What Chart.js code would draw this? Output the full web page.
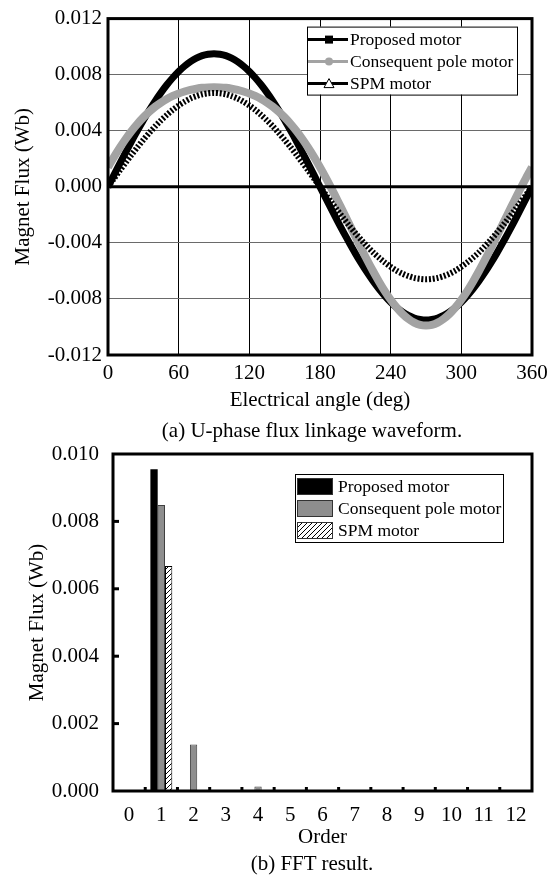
<!DOCTYPE html>
<html>
<head>
<meta charset="utf-8">
<script src="https://cdn.jsdelivr.net/npm/chart.js@4.4.1/dist/chart.umd.min.js"></script>
<style>
  body { margin: 0; background: #fff; width: 558px; height: 875px; position: relative; overflow: hidden; font-family: "Liberation Serif", "Times New Roman", serif; }
  .wrap { position: absolute; left: 0; width: 558px; }
  #wrap1 { top: 0; height: 430px; }
  #wrap2 { top: 430px; height: 445px; }
  .caption { position: absolute; left: 0; width: 624px; text-align: center; font-size: 21px; line-height: 24px; color: #000; z-index: 2; }
</style>
</head>
<body>
<div class="wrap" id="wrap1"><canvas id="waveChart" width="558" height="430"></canvas></div>
<div class="wrap" id="wrap2"><canvas id="fftChart" width="558" height="445"></canvas></div>
<div class="caption" style="top:418px">(a) U-phase flux linkage waveform.</div>
<div class="caption" style="top:851px">(b) FFT result.</div>

<script>
// ---------------- DATA ----------------
const angles = [0, 5, 10, 15, 20, 25, 30, 35, 40, 45, 50, 55, 60, 65, 70, 75, 80, 85, 90,
  95, 100, 105, 110, 115, 120, 125, 130, 135, 140, 145, 150, 155, 160, 165, 170, 175, 180,
  185, 190, 195, 200, 205, 210, 215, 220, 225, 230, 235, 240, 245, 250, 255, 260, 265, 270,
  275, 280, 285, 290, 295, 300, 305, 310, 315, 320, 325, 330, 335, 340, 345, 350, 355, 360];

const proposedFlux = [0, 0.00083, 0.00165, 0.00246, 0.00325, 0.00401, 0.00475, 0.00545, 0.00611, 0.00672, 0.00728, 0.00778, 0.00823, 0.00861, 0.00893, 0.00918, 0.00936, 0.00946, 0.0095,
  0.00946, 0.00936, 0.00918, 0.00893, 0.00861, 0.00823, 0.00778, 0.00728, 0.00672, 0.00611, 0.00545, 0.00475, 0.00401, 0.00325, 0.00246, 0.00165, 0.00083, 0,
  -0.00083, -0.00165, -0.00246, -0.00325, -0.00401, -0.00475, -0.00545, -0.00611, -0.00672, -0.00728, -0.00778, -0.00823, -0.00861, -0.00893, -0.00918, -0.00936, -0.00946, -0.0095,
  -0.00946, -0.00936, -0.00918, -0.00893, -0.00861, -0.00823, -0.00778, -0.00728, -0.00672, -0.00611, -0.00545, -0.00475, -0.00401, -0.00325, -0.00246, -0.00165, -0.00083, 0];

const consequentFlux = [0.0014, 0.00212, 0.00279, 0.00341, 0.00398, 0.00449, 0.00495, 0.00535, 0.00571, 0.00601, 0.00627, 0.00648, 0.00666, 0.0068, 0.00692, 0.007, 0.00706, 0.00709, 0.0071,
  0.00709, 0.00706, 0.007, 0.00692, 0.0068, 0.00666, 0.00648, 0.00627, 0.00601, 0.00571, 0.00535, 0.00495, 0.00449, 0.00398, 0.00341, 0.00279, 0.00212, 0.0014,
  0.00064, -0.00016, -0.00099, -0.00184, -0.00269, -0.00355, -0.0044, -0.00522, -0.00601, -0.00675, -0.00744, -0.00806, -0.0086, -0.00906, -0.00942, -0.00969, -0.00985, -0.0099,
  -0.00985, -0.00969, -0.00942, -0.00906, -0.0086, -0.00806, -0.00744, -0.00675, -0.00601, -0.00522, -0.0044, -0.00355, -0.00269, -0.00184, -0.00099, -0.00016, 0.00064, 0.0014];

const spmFlux = [0, 0.00058, 0.00116, 0.00173, 0.00229, 0.00283, 0.00335, 0.00384, 0.00431, 0.00474, 0.00513, 0.00549, 0.0058, 0.00607, 0.0063, 0.00647, 0.0066, 0.00667, 0.0067,
  0.00667, 0.0066, 0.00647, 0.0063, 0.00607, 0.0058, 0.00549, 0.00513, 0.00474, 0.00431, 0.00384, 0.00335, 0.00283, 0.00229, 0.00173, 0.00116, 0.00058, 0,
  -0.00057, -0.00114, -0.0017, -0.00225, -0.00279, -0.0033, -0.00378, -0.00424, -0.00467, -0.00505, -0.0054, -0.00571, -0.00598, -0.0062, -0.00637, -0.0065, -0.00657, -0.0066,
  -0.00657, -0.0065, -0.00637, -0.0062, -0.00598, -0.00571, -0.0054, -0.00505, -0.00467, -0.00424, -0.00378, -0.0033, -0.00279, -0.00225, -0.0017, -0.00114, -0.00057, 0];

const angleTicks = [0, 60, 120, 180, 240, 300, 360];
const waveFluxTicks = [-0.012, -0.008, -0.004, 0, 0.004, 0.008, 0.012];

const orders = ["0", "1", "2", "3", "4", "5", "6", "7", "8", "9", "10", "11", "12"];
const fftProposed = [0, 0.00955, 0.00002, 0, 0.00001, 0.00002, 0, 0, 0, 0, 0, 0, 0];
const fftConsequent = [0, 0.00849, 0.00138, 0, 0.00013, 0.00003, 0, 0, 0, 0, 0, 0, 0];
const fftSpm = [0, 0.00668, 0.00002, 0, 0.00001, 0, 0, 0, 0, 0, 0, 0, 0];
const fftFluxTicks = [0, 0.002, 0.004, 0.006, 0.008, 0.010];

const seriesNames = ["Proposed motor", "Consequent pole motor", "SPM motor"];

// ---------------- COMMON ----------------
Chart.defaults.font.family = '"Liberation Serif", "Times New Roman", serif';
Chart.defaults.color = "#000";
const tickFont = { size: 21 };
const titleFont = { size: 21 };
const legendFont = '17.5px "Liberation Serif", "Times New Roman", serif';
const GRAY_LINE = "#a3a3a3";
const GRAY_BAR = "#8e8e8e";

function fixedTicks(values) {
  return scale => { scale.ticks = values.map(v => ({ value: v })); };
}

function hatchPattern(ctx) {
  const p = document.createElement("canvas");
  p.width = 5; p.height = 5;
  const g = p.getContext("2d");
  g.fillStyle = "#fff";
  g.fillRect(0, 0, 5, 5);
  g.strokeStyle = "#000";
  g.lineWidth = 1;
  g.beginPath();
  g.moveTo(0, 5); g.lineTo(5, 0);
  g.moveTo(-1, 1); g.lineTo(1, -1);
  g.moveTo(4, 6); g.lineTo(6, 4);
  g.stroke();
  return ctx.createPattern(p, "repeat");
}

// ---------------- WAVEFORM CHART ----------------
const waveFrame = {
  id: "waveFrame",
  afterDatasetsDraw(chart) {
    const { ctx, chartArea: a, scales } = chart;
    const y0 = scales.y.getPixelForValue(0);
    ctx.save();
    ctx.strokeStyle = "#000";
    ctx.lineWidth = 3;
    ctx.beginPath();
    ctx.moveTo(a.left, y0);
    ctx.lineTo(a.right, y0);
    ctx.stroke();
    ctx.strokeRect(a.left, a.top, a.right - a.left, a.bottom - a.top);
    ctx.restore();
  },
  afterDraw(chart) {
    const { ctx, chartArea: a } = chart;
    const bx = a.right - 225, by = a.top + 8, bw = 210, bh = 68;
    ctx.save();
    ctx.fillStyle = "#fff";
    ctx.fillRect(bx, by, bw, bh);
    ctx.strokeStyle = "#000";
    ctx.lineWidth = 1;
    ctx.strokeRect(bx + 0.5, by + 0.5, bw, bh);
    const rows = [by + 13, by + 35, by + 57];
    const colors = ["#000", GRAY_LINE, "#000"];
    rows.forEach((ry, i) => {
      ctx.strokeStyle = colors[i];
      ctx.lineWidth = 3;
      ctx.beginPath();
      ctx.moveTo(bx + 1, ry);
      ctx.lineTo(bx + 41, ry);
      ctx.stroke();
      const mx = bx + 22;
      if (i === 0) {
        ctx.fillStyle = "#000";
        ctx.fillRect(mx - 4, ry - 4, 8, 8);
      } else if (i === 1) {
        ctx.fillStyle = GRAY_LINE;
        ctx.beginPath();
        ctx.arc(mx, ry, 4, 0, Math.PI * 2);
        ctx.fill();
      } else {
        ctx.fillStyle = "#fff";
        ctx.strokeStyle = "#000";
        ctx.lineWidth = 1;
        ctx.beginPath();
        ctx.moveTo(mx, ry - 5);
        ctx.lineTo(mx + 5, ry + 4);
        ctx.lineTo(mx - 5, ry + 4);
        ctx.closePath();
        ctx.fill();
        ctx.stroke();
      }
      ctx.fillStyle = "#000";
      ctx.font = legendFont;
      ctx.textBaseline = "middle";
      ctx.fillText(seriesNames[i], bx + 43, ry + 1);
    });
    ctx.restore();
  }
};

const toPoints = values => angles.map((a, i) => ({ x: a, y: values[i] }));

new Chart(document.getElementById("waveChart"), {
  type: "line",
  data: {
    datasets: [
      { label: seriesNames[2], data: toPoints(spmFlux), borderColor: "#000", borderWidth: 6,
        borderDash: [2, 1.8], borderCapStyle: "butt", pointRadius: 0, tension: 0.3 },
      { label: seriesNames[1], data: toPoints(consequentFlux), borderColor: GRAY_LINE, borderWidth: 8,
        pointRadius: 0, tension: 0.3 },
      { label: seriesNames[0], data: toPoints(proposedFlux), borderColor: "#000", borderWidth: 7,
        pointRadius: 0, tension: 0.3 }
    ]
  },
  options: {
    responsive: false,
    animation: false,
    devicePixelRatio: 1,
    layout: { padding: { left: 0, right: 26, top: 15, bottom: 0 } },
    plugins: { legend: { display: false }, tooltip: { enabled: false } },
    scales: {
      x: {
        type: "linear", min: 0, max: 360,
        afterBuildTicks: fixedTicks(angleTicks),
        afterFit: s => { s.height = 75; },
        ticks: { font: tickFont, padding: 6, maxRotation: 0 },
        grid: { color: "#000", lineWidth: 1, drawTicks: false },
        border: { display: false },
        title: { display: true, text: "Electrical angle (deg)", font: titleFont, padding: { top: 0, bottom: 17 } }
      },
      y: {
        type: "linear", min: -0.012, max: 0.012,
        afterBuildTicks: fixedTicks(waveFluxTicks),
        afterFit: s => { s.width = 108; },
        ticks: { font: tickFont, padding: 6, callback: v => v.toFixed(3) },
        grid: { color: "#6a6a6a", lineWidth: 1, drawTicks: false },
        border: { display: false },
        title: { display: true, text: "Magnet Flux (Wb)", font: titleFont, padding: { top: 11, bottom: 0 } }
      }
    }
  },
  plugins: [waveFrame]
});

// ---------------- FFT CHART ----------------
const fftCanvas = document.getElementById("fftChart");
const hatch = hatchPattern(fftCanvas.getContext("2d"));

const fftFrame = {
  id: "fftFrame",
  afterDatasetsDraw(chart) {
    const { ctx, chartArea: a, scales } = chart;
    ctx.save();
    ctx.strokeStyle = "#000";
    ctx.lineWidth = 3;
    ctx.strokeRect(a.left, a.top, a.right - a.left, a.bottom - a.top);
    // inner tick marks on the y axis
    fftFluxTicks.slice(1, -1).forEach(v => {
      const py = scales.y.getPixelForValue(v);
      ctx.beginPath();
      ctx.moveTo(a.left, py);
      ctx.lineTo(a.left + 6, py);
      ctx.stroke();
    });
    // inner tick marks between the orders
    for (let i = 1; i < orders.length; i++) {
      const px = (scales.x.getPixelForValue(i - 1) + scales.x.getPixelForValue(i)) / 2;
      ctx.beginPath();
      ctx.moveTo(px, a.bottom);
      ctx.lineTo(px, a.bottom - 4);
      ctx.stroke();
    }
    ctx.restore();
  },
  afterDraw(chart) {
    const { ctx, chartArea: a } = chart;
    const bx = a.right - 237, by = a.top + 20, bw = 208, bh = 68;
    ctx.save();
    ctx.fillStyle = "#fff";
    ctx.fillRect(bx, by, bw, bh);
    ctx.strokeStyle = "#000";
    ctx.lineWidth = 1;
    ctx.strokeRect(bx + 0.5, by + 0.5, bw, bh);
    const rows = [by + 12, by + 34, by + 56];
    const fills = ["#000", GRAY_BAR, hatch];
    rows.forEach((ry, i) => {
      ctx.fillStyle = fills[i];
      ctx.fillRect(bx + 2, ry - 8, 36, 17);
      ctx.strokeStyle = "#333";
      ctx.lineWidth = 1;
      ctx.strokeRect(bx + 2.5, ry - 7.5, 35, 16);
      ctx.fillStyle = "#000";
      ctx.font = legendFont;
      ctx.textBaseline = "middle";
      ctx.fillText(seriesNames[i], bx + 43, ry + 1);
    });
    ctx.restore();
  }
};

new Chart(fftCanvas, {
  type: "bar",
  data: {
    labels: orders,
    datasets: [
      { label: seriesNames[0], data: fftProposed, backgroundColor: "#000", borderWidth: 0 },
      { label: seriesNames[1], data: fftConsequent, backgroundColor: GRAY_BAR, borderColor: "#404040", borderWidth: 1 },
      { label: seriesNames[2], data: fftSpm, backgroundColor: hatch, borderColor: "#000", borderWidth: 1 }
    ]
  },
  options: {
    responsive: false,
    animation: false,
    devicePixelRatio: 1,
    categoryPercentage: 0.68,
    barPercentage: 1,
    layout: { padding: { left: 0, right: 26, top: 24, bottom: 0 } },
    plugins: { legend: { display: false }, tooltip: { enabled: false } },
    scales: {
      x: {
        afterFit: s => { s.height = 84; },
        ticks: { font: tickFont, padding: 4, autoSkip: false, maxRotation: 0 },
        grid: { display: false },
        border: { display: false },
        title: { display: true, text: "Order", font: titleFont, padding: { top: 0, bottom: 25 } }
      },
      y: {
        min: 0, max: 0.01,
        afterBuildTicks: fixedTicks(fftFluxTicks),
        afterFit: s => { s.width = 113; },
        ticks: { font: tickFont, padding: 6, callback: v => v.toFixed(3) },
        grid: { display: false },
        border: { display: false },
        title: { display: true, text: "Magnet Flux (Wb)", font: titleFont, padding: { top: 25, bottom: 0 } }
      }
    }
  },
  plugins: [fftFrame]
});
</script>
</body>
</html>
